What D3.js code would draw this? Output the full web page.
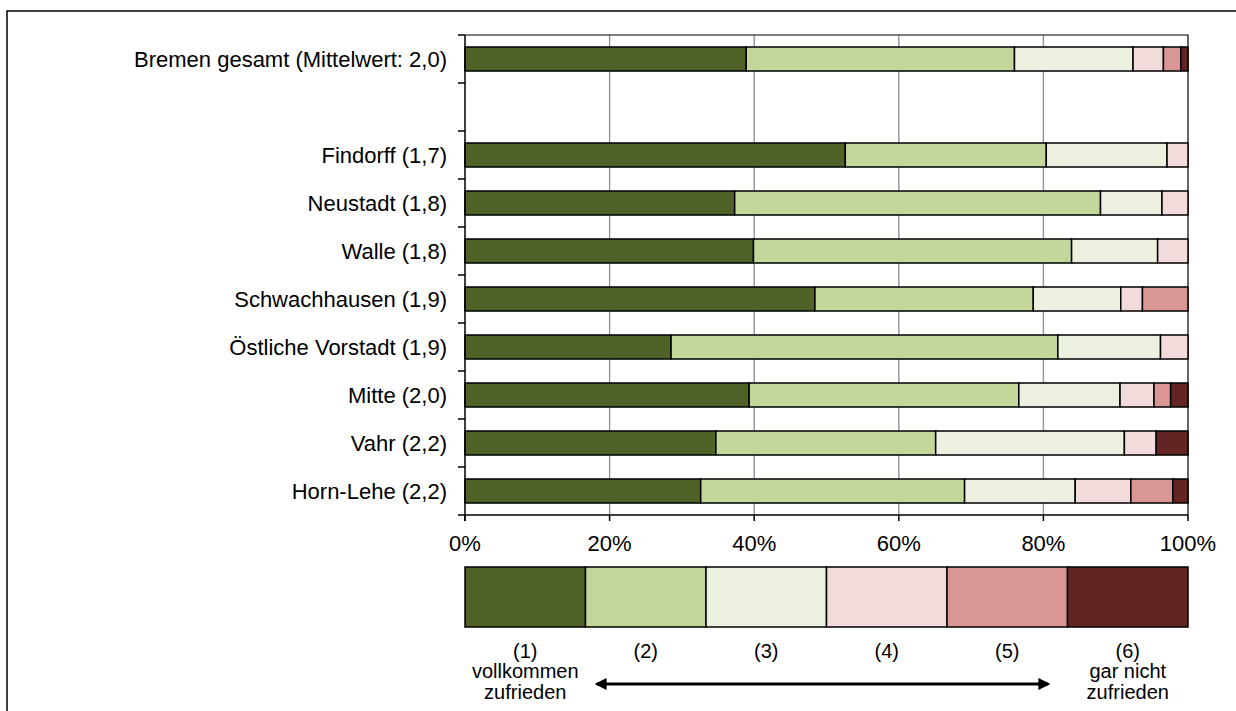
<!DOCTYPE html>
<html>
<head>
    <meta charset="utf-8">
    <style>
        body { margin: 0; background: #fff; }
        text { font-family: "Liberation Sans", Arial, sans-serif; fill: #000; }
        .seg { stroke: #000; stroke-width: 1.5px; }
    </style>
    <script src="https://d3js.org/d3.v7.min.js"></script>
</head>
<body>
    <div id="chart"></div>

    <script>
        // Kategorien (leere Zeile = Abstand nach Bremen gesamt)
        var categories = [
            "Bremen gesamt (Mittelwert: 2,0)", "",
            "Findorff (1,7)", "Neustadt (1,8)", "Walle (1,8)", "Schwachhausen (1,9)",
            "Östliche Vorstadt (1,9)", "Mitte (2,0)", "Vahr (2,2)", "Horn-Lehe (2,2)"
        ];
        // Anteile in % je Stufe, gleiche Reihenfolge wie categories (ohne Leerzeile)
        var s1 = [38.9, 52.6, 37.3, 39.9, 48.4, 28.5, 39.3, 34.7, 32.6];
        var s2 = [37.1, 27.8, 50.6, 44.0, 30.2, 53.5, 37.3, 30.4, 36.5];
        var s3 = [16.4, 16.7,  8.5, 11.9, 12.1, 14.2, 14.0, 26.1, 15.3];
        var s4 = [ 4.2,  2.9,  3.6,  4.2,  3.0,  3.8,  4.7,  4.4,  7.7];
        var s5 = [ 2.4,  0.0,  0.0,  0.0,  6.3,  0.0,  2.3,  0.0,  5.8];
        var s6 = [ 1.0,  0.0,  0.0,  0.0,  0.0,  0.0,  2.4,  4.4,  2.1];
        var xTicks = [0, 20, 40, 60, 80, 100];
        var legendLabels = ["(1)", "(2)", "(3)", "(4)", "(5)", "(6)"];
        var colors = ["#4F6228", "#C4D79B", "#EBF1DE", "#F2DCDB", "#DA9694", "#632523"];

        var width = 1236, height = 711;
        var pL = 465, pR = 1188, pT = 35, pB = 515;
        var fs = 22, lfs = 20;

        var svg = d3.select("#chart")
                    .append("svg")
                    .attr("width", width)
                    .attr("height", height);

        // outer frame (only top/left visible)
        svg.append("rect")
            .attr("x", 7).attr("y", 11)
            .attr("width", 1240).attr("height", 720)
            .attr("fill", "none").attr("stroke", "#000").attr("stroke-width", 1.5);

        var x = d3.scaleLinear().domain([0, 100]).range([pL, pR]);
        var y = d3.scaleBand().domain(categories).range([pT, pB])
            .paddingInner(0.5).paddingOuter(0.25);

        // grid
        svg.append("g").selectAll("line")
            .data(xTicks.slice(1, -1))
            .enter().append("line")
            .attr("x1", d => x(d)).attr("x2", d => x(d))
            .attr("y1", pT).attr("y2", pB)
            .attr("stroke", "#8c8c8c").attr("stroke-width", 1.3);

        // plot border top + right
        svg.append("path")
            .attr("d", "M" + pL + "," + pT + "H" + pR + "V" + pB)
            .attr("fill", "none").attr("stroke", "#000").attr("stroke-width", 1.2);

        // rows
        var series = [s1, s2, s3, s4, s5, s6];
        var rows = categories.filter(c => c !== "").map(function(c, i) {
            var row = { cat: c, segs: [] }, acc = 0;
            series.forEach(function(s, k) {
                row.segs.push({ x0: acc, x1: acc + s[i], k: k });
                acc += s[i];
            });
            return row;
        });

        var rowG = svg.append("g").selectAll("g")
            .data(rows)
            .enter().append("g")
            .attr("transform", d => "translate(0," + y(d.cat) + ")");

        rowG.selectAll("rect")
            .data(d => d.segs.filter(s => s.x1 - s.x0 > 0))
            .enter().append("rect")
            .attr("class", "seg")
            .attr("x", d => x(d.x0))
            .attr("width", d => x(d.x1) - x(d.x0))
            .attr("height", y.bandwidth())
            .attr("fill", d => colors[d.k]);

        // y axis
        var step = y.step();
        var yBounds = d3.range(categories.length + 1).map(i => pT + i * step);
        svg.append("line")
            .attr("x1", pL).attr("x2", pL).attr("y1", pT).attr("y2", pB + 6)
            .attr("stroke", "#000").attr("stroke-width", 1.5);
        svg.append("g").selectAll("line")
            .data(yBounds)
            .enter().append("line")
            .attr("x1", pL - 7).attr("x2", pL)
            .attr("y1", d => d).attr("y2", d => d)
            .attr("stroke", "#000").attr("stroke-width", 1.5);

        svg.append("g").selectAll("text")
            .data(categories.filter(c => c !== ""))
            .enter().append("text")
            .attr("x", 447)
            .attr("y", d => y(d) + y.bandwidth() / 2)
            .attr("dy", "0.36em")
            .attr("text-anchor", "end")
            .attr("font-size", fs)
            .text(d => d);

        // x axis
        svg.append("line")
            .attr("x1", pL).attr("x2", pR).attr("y1", pB).attr("y2", pB)
            .attr("stroke", "#000").attr("stroke-width", 1.5);
        svg.append("g").selectAll("line")
            .data(xTicks)
            .enter().append("line")
            .attr("x1", d => x(d)).attr("x2", d => x(d))
            .attr("y1", pB).attr("y2", pB + 6)
            .attr("stroke", "#000").attr("stroke-width", 1.5);
        svg.append("g").selectAll("text")
            .data(xTicks)
            .enter().append("text")
            .attr("x", d => x(d))
            .attr("y", 551)
            .attr("text-anchor", "middle")
            .attr("font-size", fs)
            .text(d => d + "%");

        // legend
        var lx = d3.scaleBand().domain(legendLabels).range([pL, pR]);
        svg.append("g").selectAll("rect")
            .data(legendLabels)
            .enter().append("rect")
            .attr("class", "seg")
            .attr("x", d => lx(d))
            .attr("y", 567)
            .attr("width", lx.bandwidth())
            .attr("height", 60)
            .attr("fill", (d, i) => colors[i]);
        svg.append("g").selectAll("text")
            .data(legendLabels)
            .enter().append("text")
            .attr("x", d => lx(d) + lx.bandwidth() / 2)
            .attr("y", 658)
            .attr("text-anchor", "middle")
            .attr("font-size", lfs)
            .text(d => d);

        var ends = [
            { label: legendLabels[0], lines: ["vollkommen", "zufrieden"] },
            { label: legendLabels[5], lines: ["gar nicht", "zufrieden"] }
        ];
        ends.forEach(function(e) {
            e.lines.forEach(function(t, j) {
                svg.append("text")
                    .attr("x", lx(e.label) + lx.bandwidth() / 2)
                    .attr("y", 678 + j * 21)
                    .attr("text-anchor", "middle")
                    .attr("font-size", lfs)
                    .text(t);
            });
        });

        // double arrow
        var defs = svg.append("defs");
        defs.append("marker")
            .attr("id", "ah").attr("viewBox", "0 0 10 10")
            .attr("refX", 8).attr("refY", 5)
            .attr("markerWidth", 4).attr("markerHeight", 4)
            .attr("orient", "auto-start-reverse")
            .append("path").attr("d", "M0,0L10,5L0,10z").attr("fill", "#000");
        svg.append("line")
            .attr("x1", 597).attr("x2", 1048).attr("y1", 684).attr("y2", 684)
            .attr("stroke", "#000").attr("stroke-width", 3)
            .attr("marker-start", "url(#ah)").attr("marker-end", "url(#ah)");
    </script>
</body>
</html>
